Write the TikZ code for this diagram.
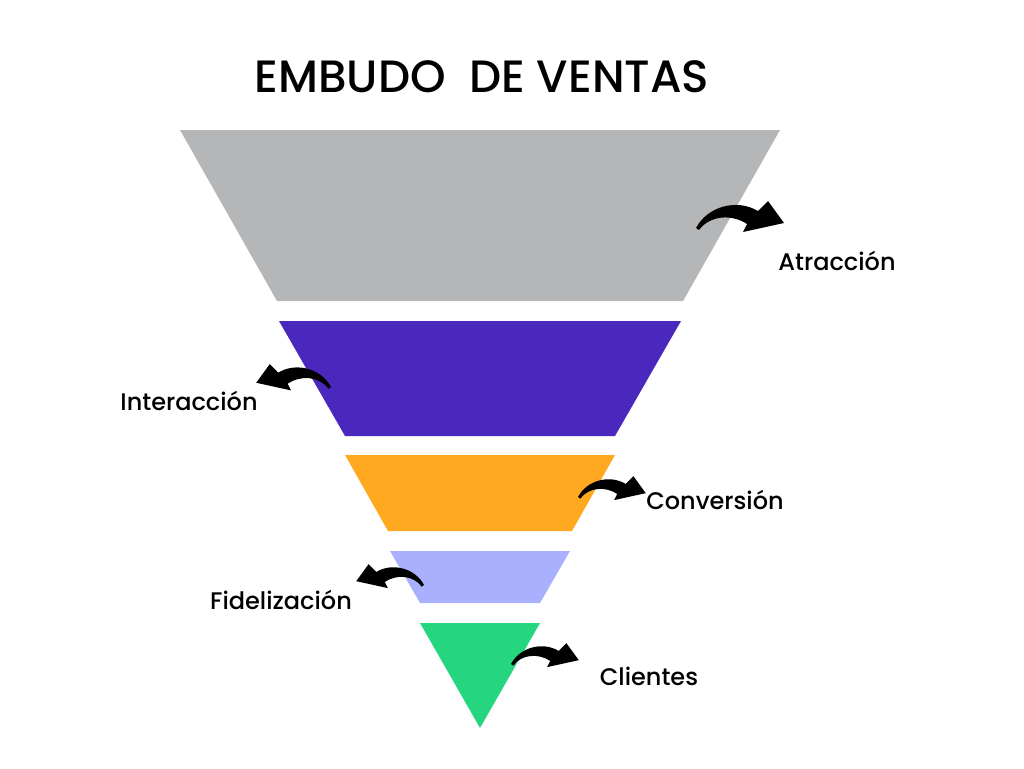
\documentclass[tikz,border=0pt]{standalone}
\usepackage{fontspec}
\setmainfont{Poppins}[UprightFont=* Medium]
\definecolor{cgray}{HTML}{B5B6B8}
\definecolor{cpurple}{HTML}{4A28BE}
\definecolor{corange}{HTML}{FFA820}
\definecolor{clav}{HTML}{A9B1FF}
\definecolor{cgreen}{HTML}{26D67F}
\tikzset{
  lbl/.style={font=\fontsize{24}{28}\selectfont, text=black, inner sep=0pt},
  carrow/.pic={\fill[black] (0,0) .. controls (11,-21) and (40,-30) .. (62,-17) -- (72,-27) -- (88,-5) -- (47,4) -- (51,-4) .. controls (36,-14) and (14,-13) .. (3,2) -- cycle;}
}
\begin{document}
\begin{tikzpicture}[x=1pt,y=-1pt]
\useasboundingbox[fill=white] (0,0) rectangle (1024,768);
\node[font=\fontsize{45.3}{50}\selectfont, inner sep=0pt] (title) at (482,77) {EMBUDO\ \ DE VENTAS};
\fill[cgray] (180,130) -- (780,130) -- (683,301) -- (277,301) -- cycle;
\fill[cpurple] (279,321) -- (681,321) -- (615,436) -- (345,436) -- cycle;
\fill[corange] (345,455) -- (615,455) -- (572,531) -- (388,531) -- cycle;
\fill[clav] (390,551) -- (570,551) -- (540,603) -- (420,603) -- cycle;
\fill[cgreen] (420,623) -- (540,623) -- (480,728) -- cycle;
\pic at (696,228) {carrow};
\pic[xscale=-0.85,yscale=0.85] at (331,387) {carrow};
\pic[scale=0.77] at (578,497) {carrow};
\pic[xscale=-0.77,yscale=0.77] at (424,585) {carrow};
\pic[scale=0.77] at (511,664) {carrow};
\node[lbl] (a) at (837,261) {Atracción};
\node[lbl] (b) at (189,401) {Interacción};
\node[lbl] (c) at (715,500) {Conversión};
\node[lbl] (d) at (281,600) {Fidelización};
\node[lbl] (e) at (649,676) {Clientes};
\end{tikzpicture}
\end{document}
